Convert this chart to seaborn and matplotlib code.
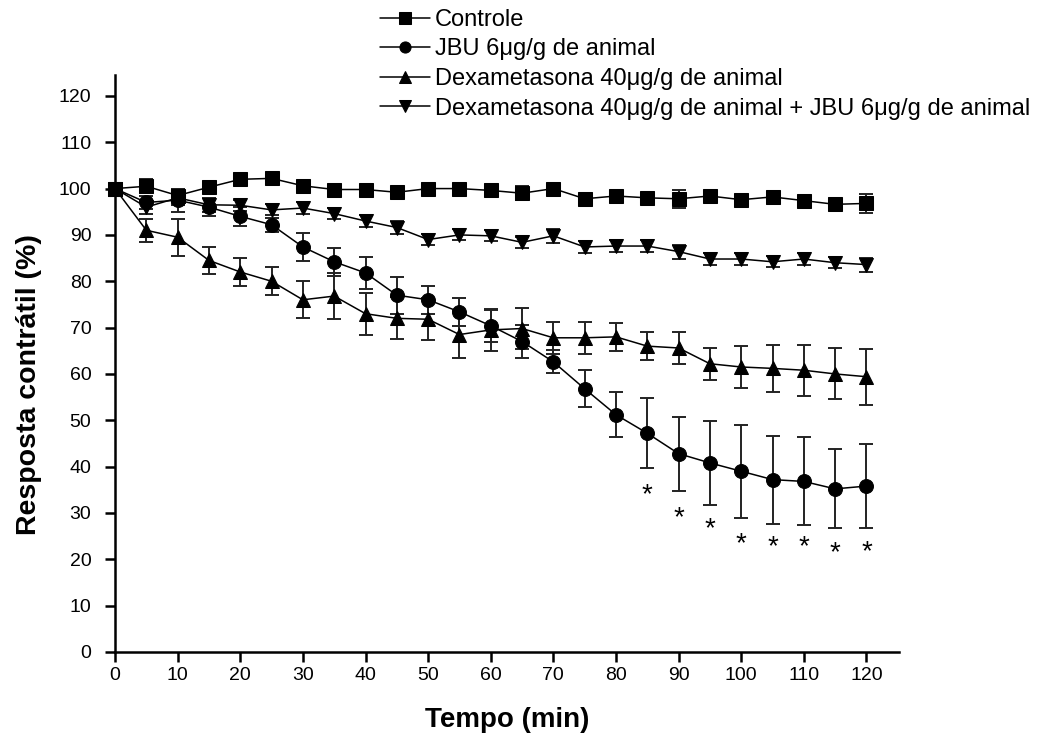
import numpy as np
import pandas as pd
import matplotlib
matplotlib.use("Agg")
import matplotlib.pyplot as plt
import seaborn as sns

tempo = [0, 5, 10, 15, 20, 25, 30, 35, 40, 45, 50, 55, 60, 65, 70, 75, 80, 85, 90, 95, 100, 105, 110, 115, 120]

controle = [100, 100.5, 98.5, 100.3, 102, 102.2, 100.6, 99.8, 99.8, 99.2, 100, 100, 99.6, 99, 100,
            97.8, 98.4, 98, 97.8, 98.4, 97.6, 98.2, 97.4, 96.6, 96.8]
controle_err = [0, 1.5, 1.5, 1.0, 0.8, 0.8, 0.8, 0.8, 0.8, 0.8, 0.8, 0.8, 0.8, 1.5, 0.8,
                0.8, 0.8, 0.8, 2.0, 0.8, 0.8, 0.8, 0.8, 0.8, 2.0]

jbu = [100, 97, 97.5, 96, 94, 92.2, 87.4, 84.2, 81.8, 77, 76, 73.4, 70.4, 67, 62.6,
       56.8, 51.2, 47.2, 42.8, 40.8, 39, 37.2, 36.8, 35.2, 35.8]
jbu_err = [0, 1.5, 2.5, 2, 2, 1.5, 3, 3, 3.5, 4, 3, 3, 3.5, 3.5, 2.5,
           4, 4.8, 7.5, 8, 9, 10, 9.5, 9.5, 8.5, 9]

dexa = [100, 91, 89.5, 84.5, 82, 80, 76, 76.8, 73, 72, 71.8, 68.5, 69.5, 69.8, 67.8,
        67.8, 68, 66, 65.6, 62.2, 61.5, 61.2, 60.8, 60, 59.4]
dexa_err = [0, 2.5, 4, 3, 3, 3, 4, 5, 4.5, 4.5, 4.5, 5, 4.5, 4.5, 3.5,
            3.5, 3, 3, 3.5, 3.5, 4.5, 5, 5.5, 5.5, 6]

dexa_jbu = [100, 96, 98, 96.5, 96.4, 95.4, 95.8, 94.6, 93, 91.6, 89, 90, 89.8, 88.4, 89.8,
            87.4, 87.6, 87.6, 86.4, 84.8, 84.8, 84.2, 84.8, 84, 83.6]
dexa_jbu_err = [0, 1.5, 1.5, 1.5, 1.2, 1.2, 1.2, 1.2, 1.2, 1.5, 1.2, 1.2, 1.2, 1.2, 1.5,
                1.2, 1.2, 1.2, 1.5, 1.2, 1.2, 1.2, 1.2, 1.2, 1.5]

sig_tempo = [85, 90, 95, 100, 105, 110, 115, 120]
sig_y = [33.8, 28.8, 26.4, 23.2, 22.6, 22.6, 21.4, 21.6]

labels = ["Controle", "JBU 6\u03bcg/g de animal", "Dexametasona 40\u03bcg/g de animal",
          "Dexametasona 40\u03bcg/g de animal + JBU 6\u03bcg/g de animal"]
series = [controle, jbu, dexa, dexa_jbu]
errors = [controle_err, jbu_err, dexa_err, dexa_jbu_err]
marker_map = {labels[0]: "s", labels[1]: "o", labels[2]: "^", labels[3]: "v"}

rows = []
for lab, vals, errs in zip(labels, series, errors):
    for t, v, e in zip(tempo, vals, errs):
        rows.append({"Tempo": t, "Resposta": v, "Erro": e, "Grupo": lab})
df = pd.DataFrame(rows)

sns.set_theme(style="ticks")
plt.rcParams["font.family"] = ["Liberation Sans", "DejaVu Sans"]
plt.rcParams["text.color"] = "black"
plt.rcParams["axes.labelcolor"] = "black"

fig = plt.figure(figsize=(10.41, 7.43), dpi=100)
ax = fig.add_axes([0.1105, 0.1225, 0.7531, 0.7765])

# error bars
for lab in labels:
    sub = df[df["Grupo"] == lab]
    ax.errorbar(sub["Tempo"], sub["Resposta"], yerr=sub["Erro"], fmt="none",
                ecolor="#222222", elinewidth=1.4, capsize=5, capthick=1.4, zorder=2,
                clip_on=False)

sns.lineplot(data=df, x="Tempo", y="Resposta", hue="Grupo", style="Grupo",
             hue_order=labels, style_order=labels,
             palette=["black"] * 4, markers=marker_map, dashes=False,
             linewidth=1.1, markersize=10, markeredgecolor="black",
             errorbar=None, ax=ax, zorder=3, clip_on=False, legend=True)

for t, y in zip(sig_tempo, sig_y):
    ax.text(t, y, "*", ha="center", va="center", fontsize=20, color="black")

ax.set_xlim(0, 125.2)
ax.set_ylim(0, 124.5)
ax.set_xticks(np.arange(0, 121, 10))
ax.set_yticks(np.arange(0, 121, 10))
ax.tick_params(axis="both", direction="out", length=7, width=1.8, labelsize=14,
               colors="black")
ax.tick_params(axis="y", pad=10)
ax.tick_params(axis="x", pad=4)
for s in ["top", "right"]:
    ax.spines[s].set_visible(False)
for s in ["left", "bottom"]:
    ax.spines[s].set_linewidth(1.8)
    ax.spines[s].set_color("black")

ax.set_xlabel("Tempo (min)", fontsize=20, fontweight="bold", color="black")
ax.set_ylabel("Resposta contrátil (%)", fontsize=20.5, fontweight="bold", color="black")
ax.xaxis.set_label_coords(0.5, -0.095)
ax.yaxis.set_label_coords(-0.093, 0.463)

handles, labs = ax.get_legend_handles_labels()
ax.get_legend().remove()
leg = fig.legend(handles, labs, loc="upper left", bbox_to_anchor=(0.354, 1.004),
                 frameon=False, fontsize=17, handlelength=2.1, handletextpad=0.2,
                 labelspacing=0.32, borderpad=0.0, markerscale=0.8)
for txt in leg.get_texts():
    txt.set_color("black")

fig.savefig("out.png", dpi=100, facecolor="white")
